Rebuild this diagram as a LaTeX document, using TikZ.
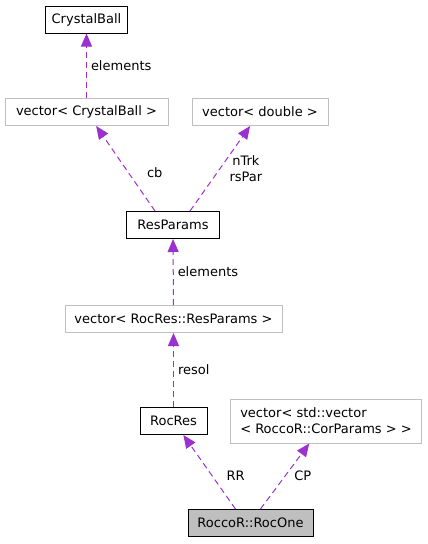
\documentclass[tikz,border=0pt]{standalone}
\usepackage{fontspec}
\setmainfont{DejaVu Sans}
\usetikzlibrary{arrows.meta}
\definecolor{edgepurple}{HTML}{9A32CD}
\definecolor{boxgray}{HTML}{BFBFBF}
\begin{document}
\begin{tikzpicture}[x=1pt, y=-1pt, >={Triangle[length=13pt,width=11pt]},
    every node/.style={font=\fontsize{13}{16}\selectfont, inner sep=0pt},
    cls/.style={draw=black, line width=1pt, inner xsep=6pt, minimum height=27pt},
    tmpl/.style={draw=boxgray, line width=1pt, inner xsep=6pt, minimum height=27pt},
    rel/.style={->, edgepurple, line width=1pt, dash pattern=on 6pt off 4pt},
    lbl/.style={text=black, inner sep=1pt}]
    \useasboundingbox (0,0) rectangle (428,544);
    % nodes
    \node[cls] (cball) at (86.5,19.5) {CrystalBall};
    \node[tmpl, minimum width=163pt] (vcball) at (86.5,112) {vector< CrystalBall >};
    \node[tmpl, minimum width=136pt] (vdbl) at (260,112) {vector< double >};
    \node[cls, minimum width=93pt] (respar) at (173,225) {ResParams};
    \node[tmpl, minimum width=217pt] (vrespar) at (173.5,319) {vector< RocRes::ResParams >};
    \node[cls, minimum width=67pt] (rocres) at (173.5,421) {RocRes};
    \node[tmpl, minimum width=191pt, minimum height=44pt, align=left] (vcorpar) at (326,421)
        {vector< std::vector\\< RoccoR::CorParams > >};
    \node[cls, fill=boxgray, minimum width=125pt] (rocone) at (250.5,523) {RoccoR::RocOne};
    % edges
    \draw[rel] (vcball) -- (cball) node[midway, right=3pt, lbl]{elements};
    \draw[rel] ([xshift=-18pt]respar.north) -- (vcball) node[pos=0.45, right=17pt, lbl]{cb};
    \draw[rel] ([xshift=17pt]respar.north) -- (vdbl) node[pos=0.5, right=8pt, lbl, align=center]{nTrk\\rsPar};
    \draw[rel] (vrespar) -- (respar) node[midway, right=3pt, lbl]{elements};
    \draw[rel] (rocres) -- (vrespar) node[midway, right=3pt, lbl]{resol};
    \draw[rel] ([xshift=-15pt]rocone.north) -- (rocres) node[pos=0.45, right=13pt, lbl]{RR};
    \draw[rel] ([xshift=10pt]rocone.north) -- (vcorpar) node[pos=0.5, right=8pt, lbl]{CP};
\end{tikzpicture}
\end{document}
